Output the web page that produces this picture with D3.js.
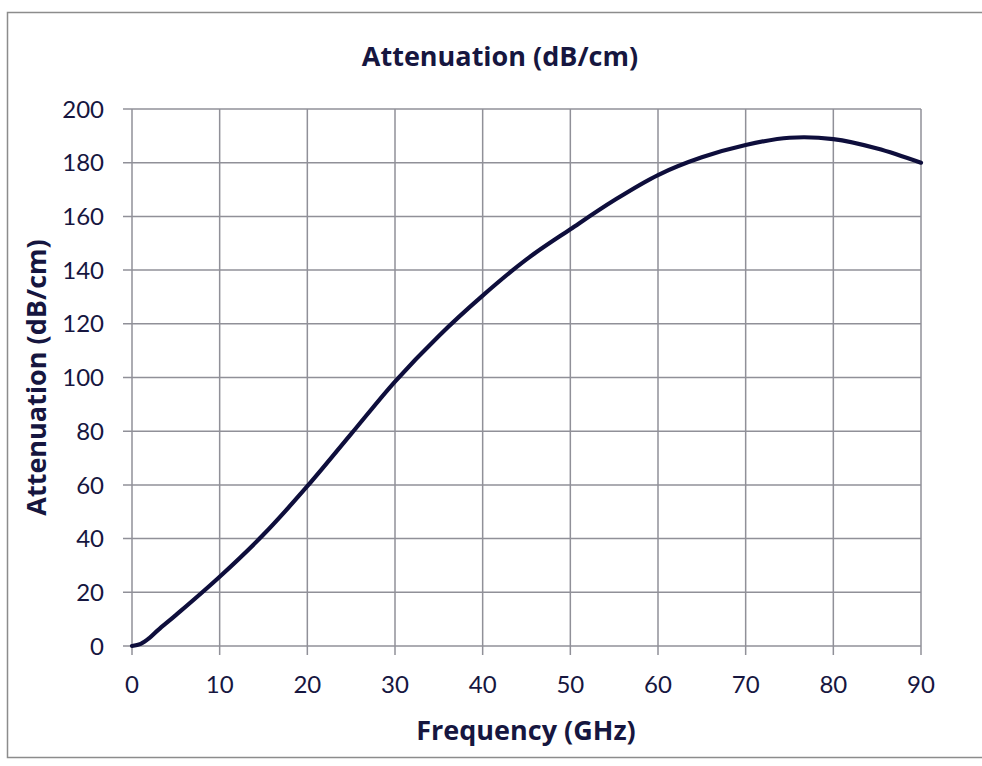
<!DOCTYPE html>
<html>
<head>
<meta charset="utf-8">
<script src="https://cdn.jsdelivr.net/npm/d3@7"></script>
<style>
  html, body { margin: 0; padding: 0; background: #fff; }
  text { font-family: Lato, "Open Sans", sans-serif; fill: #16163f; }
  .ttl { font-family: "Open Sans", Lato, sans-serif; font-weight: bold; font-size: 27px; }
</style>
</head>
<body>
<svg id="chart"></svg>
<script>
// data
const freq  = [0, 1, 2, 3, 5, 10, 15, 20, 25, 30, 35, 40, 45, 50, 55, 60, 65, 70, 75, 80, 85, 90];
const atten = [0, 0.8, 3, 6, 11.5, 25.8, 41.5, 59.5, 79, 98.5, 115.5, 130.5, 144, 155.2, 166, 175.4, 182, 186.6, 189.3, 188.8, 185.3, 180];
const xTicks = [0, 10, 20, 30, 40, 50, 60, 70, 80, 90];
const yTicks = [0, 20, 40, 60, 80, 100, 120, 140, 160, 180, 200];

const W = 982, H = 766;
const svg = d3.select("#chart").attr("width", W).attr("height", H);

// chart area border
svg.append("rect")
  .attr("x", 7.5).attr("y", 12.5)
  .attr("width", 1000).attr("height", 745)
  .attr("fill", "none").attr("stroke", "#8c8c8c").attr("stroke-width", 1.5);

const pLeft = 132, pRight = 921, pTop = 109, pBottom = 646;
const x = d3.scaleLinear().domain([0, 90]).range([pLeft, pRight]);
const y = d3.scaleLinear().domain([0, 200]).range([pBottom, pTop]);

const gridColor = "#909098";

// horizontal gridlines + ticks sticking out left
svg.append("g").selectAll("line").data(yTicks).join("line")
  .attr("x1", pLeft - 9).attr("x2", pRight)
  .attr("y1", d => y(d)).attr("y2", d => y(d))
  .attr("stroke", gridColor).attr("stroke-width", 1.5);

// vertical gridlines + ticks sticking out below
svg.append("g").selectAll("line").data(xTicks).join("line")
  .attr("x1", d => x(d)).attr("x2", d => x(d))
  .attr("y1", pTop).attr("y2", pBottom + 9)
  .attr("stroke", gridColor).attr("stroke-width", 1.5);

// tick labels
svg.append("g").selectAll("text").data(yTicks).join("text")
  .attr("x", 104).attr("y", d => y(d))
  .attr("dy", "0.36em")
  .attr("text-anchor", "end")
  .style("font-size", "24px")
  .text(d => d);

svg.append("g").selectAll("text").data(xTicks).join("text")
  .attr("x", d => x(d)).attr("y", 693)
  .attr("text-anchor", "middle")
  .style("font-size", "24px")
  .text(d => d);

// the curve (smoothed line, like the spreadsheet)
const line = d3.line()
  .x((d, i) => x(freq[i]))
  .y(d => y(d))
  .curve(d3.curveCatmullRom.alpha(0.5));

svg.append("path")
  .datum(atten)
  .attr("d", line)
  .attr("fill", "none")
  .attr("stroke", "#0e0e3c")
  .attr("stroke-width", 4.2)
  .attr("stroke-linejoin", "round")
  .attr("stroke-linecap", "round");

// titles
svg.append("text").attr("class", "ttl")
  .attr("x", 500).attr("y", 66)
  .attr("text-anchor", "middle")
  .text("Attenuation (dB/cm)");

svg.append("text").attr("class", "ttl")
  .attr("x", 526).attr("y", 740)
  .attr("text-anchor", "middle")
  .text("Frequency (GHz)");

svg.append("text").attr("class", "ttl")
  .attr("transform", "translate(46," + ((pTop + pBottom) / 2) + ") rotate(-90)")
  .attr("text-anchor", "middle")
  .text("Attenuation (dB/cm)");
</script>
</body>
</html>
